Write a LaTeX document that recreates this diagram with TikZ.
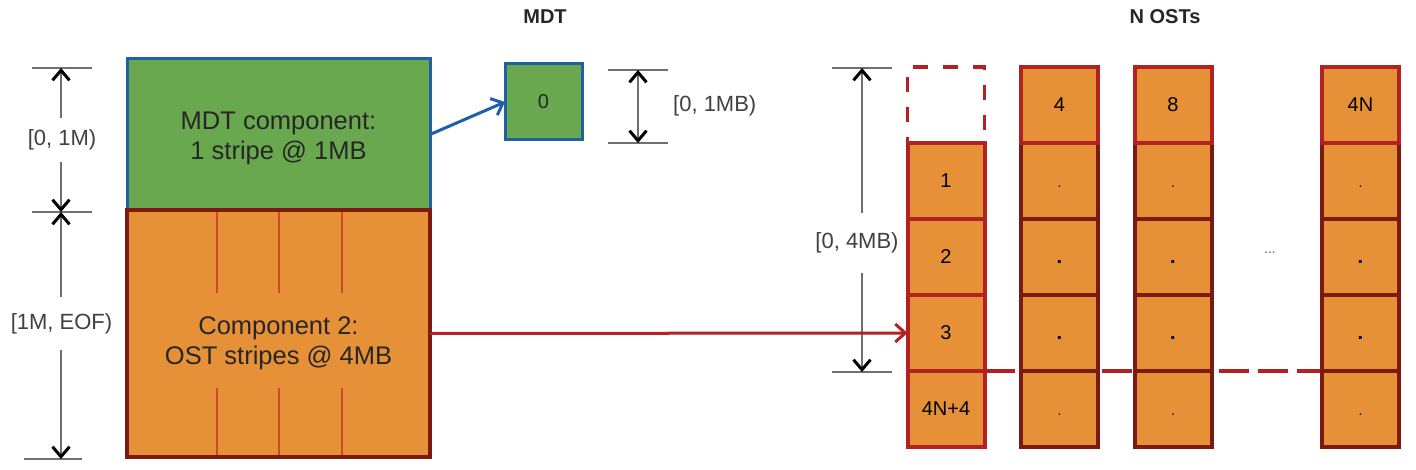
\documentclass[tikz,border=0pt]{standalone}
\usepackage{fontspec}
\setmainfont{Liberation Sans}
\usetikzlibrary{arrows.meta,backgrounds}
\definecolor{gfill}{HTML}{6AA84F}
\definecolor{bline}{HTML}{1F5FA6}
\definecolor{ofill}{HTML}{E69138}
\definecolor{rline}{HTML}{B22222}
\definecolor{dline}{HTML}{7A1A10}
\definecolor{iline}{HTML}{CC4A25}
\definecolor{dimc}{HTML}{707070}
\newcommand\smalldotx{\vphantom{1}{\fontsize{14}{16}\selectfont .}}
\newcommand\bigdotx{\vphantom{1}{\bfseries .}}
\begin{document}
\begin{tikzpicture}[x=1pt,y=-1pt,
 cell/.style={draw=rline,fill=ofill,line width=4pt,minimum width=77pt,minimum height=76pt,inner sep=0pt,outer sep=0pt,font=\fontsize{20}{24}\selectfont},
 dcell/.style={cell,draw=dline},
 ghost/.style={draw=rline,line width=3.5pt,dash pattern=on 15pt off 15pt,minimum width=77pt,minimum height=76pt,inner sep=0pt,outer sep=0pt},
 bigbox/.style={line width=3pt,inner sep=0pt,outer sep=0pt},
 bigtext/.style={font=\fontsize{25.5}{30}\selectfont,align=center,text=black!85,inner sep=0pt},
 lbl/.style={font=\fontsize{22}{26}\selectfont,text=black!75,inner sep=0pt},
 head/.style={font=\bfseries\fontsize{20}{24}\selectfont,text=black!85},
 tick/.style={draw=dimc,line width=2.6pt},
 dimarrow/.style={draw=dimc,line width=2.4pt,-{Straight Barb[length=10pt,width=17pt,line width=3pt,color=black]}},
 dimboth/.style={draw=dimc,line width=2.4pt,{Straight Barb[length=10pt,width=17pt,line width=3pt,color=black]}-{Straight Barb[length=10pt,width=17pt,line width=3pt,color=black]}},
 link/.style={line width=3pt,-{Straight Barb[length=10pt,width=18pt,line width=3pt]}},
]
\useasboundingbox (0,0) rectangle (1416,470);

% headers
\node[head] (hmdt) at (545,17) {MDT};
\node[head] (host) at (1165,17) {N OSTs};

% left file layout
\node[bigbox,draw=bline,fill=gfill,minimum width=303pt,minimum height=151pt] (mdtc) at (278.5,134.5) {};
\node[bigbox,draw=dline,line width=3.5pt,fill=ofill,minimum width=303pt,minimum height=247pt] (comp2) at (278.5,333.5) {};
\node[bigtext] (mdtct) at (278.5,138) {MDT component:\\1 stripe @ 1MB};
\node[bigtext] (comp2t) at (278.5,343) {Component 2:\\OST stripes @ 4MB};
\foreach \x in {217,279,342}{
  \draw[iline,line width=2.2pt] (\x,212) -- (\x,293);
  \draw[iline,line width=2.2pt] (\x,388) -- (\x,455);
}

% left dimensions
\draw[tick] (32,68) -- (92,68);
\draw[tick] (32,212) -- (92,212);
\draw[tick] (24,459) -- (82,459);
\coordinate (d1t) at (61,68);
\coordinate (d1b) at (61,212);
\coordinate (d2b) at (61,459);
\node[lbl,minimum height=44pt] (l1) at (62,140) {[0, 1M)};
\node[lbl,minimum height=53pt] (l2) at (61.5,323.5) {[1M, EOF)};
\draw[dimarrow] (l1.north -| d1t) -- (d1t);
\draw[dimarrow] (l1.south -| d1t) -- (d1b);
\draw[dimarrow] (l2.north -| d1t) -- (d1b);
\draw[dimarrow] (l2.south -| d1t) -- (d2b);

% MDT object
\node[bigbox,draw=bline,fill=gfill,minimum width=77pt,minimum height=76pt,font=\fontsize{20}{24}\selectfont,text=black!85] (mdt0) at (543.5,102) {0};
\draw[tick] (608,70) -- (668,70);
\draw[tick] (608,143) -- (668,143);
\coordinate (d3t) at (638,70);
\coordinate (d3b) at (638,143);
\draw[dimboth] (d3t) -- (d3b);
\node[lbl,anchor=west] (l3) at (673,106) {[0, 1MB)};

% 4MB dimension
\draw[tick] (832,68) -- (892,68);
\draw[tick] (832,372) -- (892,372);
\coordinate (d4t) at (862,68);
\coordinate (d4b) at (862,372);
\node[lbl,minimum height=59pt] (l4) at (857,243) {[0, 4MB)};
\draw[dimarrow] (l4.north -| d4t) -- (d4t);
\draw[dimarrow] (l4.south -| d4t) -- (d4b);

% OST column 1
\node[ghost] (c1r1) at (946,105) {};
\node[cell] (c1r2) at (946,181) {1};
\node[cell] (c1r3) at (946,257) {2};
\node[cell] (c1r4) at (946,333) {3};
\node[cell] (c1r5) at (946,409) {4N+4};

% OST columns 2-4
\foreach \c/\x/\t in {2/1059.5/4, 3/1173/8, 4/1360.5/4N}{
  \node[dcell] (c\c r2) at (\x,181) {\smalldotx};
  \node[dcell] (c\c r3) at (\x,257) {\bigdotx};
  \node[dcell] (c\c r4) at (\x,333) {\bigdotx};
  \node[dcell] (c\c r5) at (\x,409) {\smalldotx};
  \node[cell] (c\c r1) at (\x,105) {\t};
}
\node[font=\fontsize{14}{16}\selectfont,text=black!60] (ell) at (1270,253) {...};

% dashed boundary line behind the columns
\begin{scope}[on background layer]
  \draw[rline,line width=3.5pt,dash pattern=on 30pt off 9pt] (c1r5.north east) -- (c4r5.north west);
\end{scope}

% connectors
\draw[link,bline] (mdtc.east) -- (mdt0.west);
\draw[link,rline] (comp2.east) -- (c1r4.west);
\end{tikzpicture}
\end{document}
